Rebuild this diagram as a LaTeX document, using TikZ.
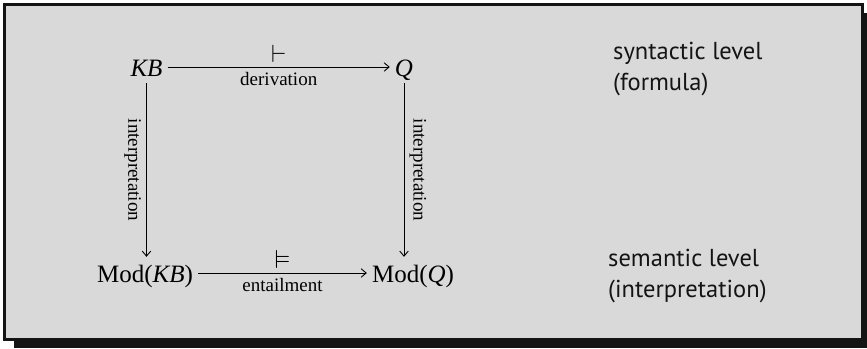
\documentclass[tikz,border=0pt]{standalone}
\usepackage{amssymb}
\usepackage{fontspec}
\setmainfont{Liberation Serif}
\newfontfamily\levelfont{PT Sans}
\usetikzlibrary{arrows.meta}
\definecolor{boxgray}{HTML}{D9D9D9}
\definecolor{boxblack}{HTML}{141414}
\tikzset{
  obj/.style={inner sep=5pt, text height=20pt, text depth=2pt, font=\fontsize{25}{30}\selectfont},
  conn/.style={line width=0.9pt, -{Straight Barb[length=5pt,width=8.5pt,line width=0.9pt]}},
  lbl/.style={font=\fontsize{19}{22}\selectfont, inner sep=5pt},
  sym/.style={font=\fontsize{26}{28}\selectfont, inner sep=0pt, above=4pt},
  levellbl/.style={font=\levelfont\fontsize{24.5}{31}\selectfont, align=left, anchor=base west, inner sep=0pt, text=boxblack}
}
\begin{document}
\begin{tikzpicture}[x=1pt,y=1pt]
\useasboundingbox (0,0) rectangle (867,-348);
\fill[boxblack] (14,-13) rectangle (867,-348);
\draw[line width=2.6pt, draw=boxblack, fill=boxgray] (4.3,-4.3) rectangle (862.7,-339.7);

\node[obj, anchor=base] (kb) at (146.5,-76) {\textit{KB}};
\node[obj, anchor=base] (q) at (404,-76) {\textit{Q}};
\node[obj, anchor=base] (mkb) at (145,-282) {Mod(\textit{KB})};
\node[obj, anchor=base] (mq) at (413,-282) {Mod(\textit{Q})};

\draw[conn] (kb) -- node[sym] {$\vdash$} node[lbl, below] {derivation} (q);
\draw[conn] (mkb) -- node[sym] {$\vDash$} node[lbl, below] {entailment} (mq);
\draw[conn] (kb.south) -- node[lbl, rotate=-90, anchor=north] {interpretation} (kb.south |- mkb.north);
\draw[conn] (q.south) -- node[lbl, rotate=-90, anchor=south] {interpretation} (q.south |- mq.north);

\node[levellbl] (syn) at (613,-90) {syntactic level\\(formula)};
\node[levellbl] (sem) at (608,-297) {semantic level\\(interpretation)};
\end{tikzpicture}
\end{document}
